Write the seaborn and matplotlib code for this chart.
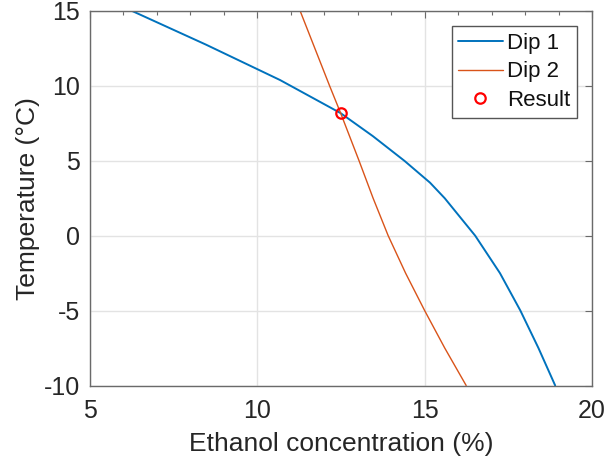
import numpy as np
import pandas as pd
import matplotlib
matplotlib.use("Agg")
import matplotlib.pyplot as plt
import seaborn as sns
from matplotlib.ticker import MultipleLocator

# ---- data ----
dip1_conc = [6.26, 8.47, 10.68, 12.49, 13.45, 14.40, 15.16, 15.60, 16.51, 17.25, 17.86, 18.40, 18.90]
dip1_temp = [15.0, 12.75, 10.39, 8.18, 6.65, 4.99, 3.54, 2.50, 0.0, -2.5, -5.0, -7.5, -10.0]

dip2_conc = [11.28, 11.72, 12.16, 12.49, 13.04, 13.46, 13.91, 14.43, 15.00, 15.60, 16.24]
dip2_temp = [15.0, 12.5, 10.0, 8.18, 5.0, 2.5, 0.0, -2.5, -5.0, -7.5, -10.0]

result_conc = [12.49]
result_temp = [8.18]

x_ticks = [5, 10, 15, 20]
y_ticks = [-10, -5, 0, 5, 10, 15]
x_label = "Ethanol concentration (%)"
y_label = "Temperature (°C)"
series_names = ["Dip 1", "Dip 2", "Result"]

# ---- style ----
sns.set_theme(style="white")
plt.rcParams["font.family"] = ["Liberation Sans", "DejaVu Sans"]

fig = plt.figure(figsize=(6.05, 4.61), dpi=100)
ax = fig.add_axes([90 / 605, 1 - 385.5 / 461, (592 - 90) / 605, (385.5 - 11) / 461])

c1 = "#0072BD"
c2 = "#D95319"

sns.lineplot(x=dip1_conc, y=dip1_temp, sort=False, estimator=None, ax=ax,
             color=c1, linewidth=1.4, label=series_names[0])
sns.lineplot(x=dip2_conc, y=dip2_temp, sort=False, estimator=None, ax=ax,
             color=c2, linewidth=1.0, label=series_names[1])
ax.plot(result_conc, result_temp, linestyle="none", marker="o", markersize=7.5,
        markerfacecolor="none", markeredgecolor="#FF0000", markeredgewidth=1.6,
        label=series_names[2], zorder=5)

ax.set_xlim(5, 20)
ax.set_ylim(-10, 15)
ax.set_xticks(x_ticks)
ax.set_yticks(y_ticks)
ax.set_xticklabels([str(t) for t in x_ticks])
ax.set_yticklabels([str(t) for t in y_ticks])
ax.xaxis.set_minor_locator(MultipleLocator(1))

ax.grid(True, which="major", color="#e3e3e3", linewidth=1.0)
ax.set_axisbelow(True)

spine_col = "#6a6a6a"
for s in ax.spines.values():
    s.set_color(spine_col)
    s.set_linewidth(1.0)

ax.tick_params(which="both", direction="in", top=True, right=True,
               colors=spine_col, labelcolor="#262626")
ax.tick_params(which="major", length=5, width=0.8, labelsize=18)
ax.tick_params(axis="x", which="major", pad=10)
ax.tick_params(axis="y", which="major", pad=7)
ax.tick_params(which="minor", length=3, width=0.8)
ax.tick_params(axis="y", which="minor", left=False, right=False)

ax.set_xlabel(x_label, fontsize=19, color="#262626", labelpad=6)
ax.set_ylabel(y_label, fontsize=19, color="#262626", labelpad=3)

handles, labels = ax.get_legend_handles_labels()
leg = ax.legend(handles, labels, loc="upper right",
                bbox_to_anchor=((577 - 90) / 502, (385.5 - 26) / 374.5),
                borderaxespad=0, fontsize=16, frameon=True, fancybox=False,
                framealpha=1, edgecolor="#555555", handlelength=2.0,
                handletextpad=0.2, labelspacing=0.35, borderpad=0.3)
leg.get_frame().set_linewidth(1.0)
for t in leg.get_texts():
    t.set_color("#111111")

fig.savefig("out.png", dpi=100)
